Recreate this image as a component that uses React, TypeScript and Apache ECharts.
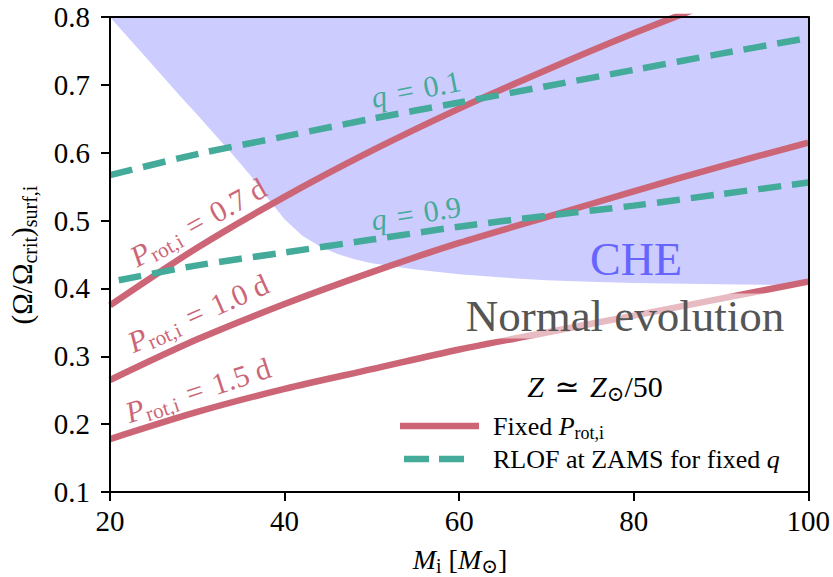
import React, { useEffect, useRef } from "react";
import * as echarts from "echarts";

// Initial mass grid [Msun] and surface Omega/Omega_crit for fixed initial rotation periods
const massGrid = [20, 30, 40, 50, 60, 70, 80, 90];
const omegaP07 = [0.375, 0.46, 0.535, 0.603, 0.665, 0.722, 0.776, 0.826];
const massGridLong = [20, 30, 40, 50, 60, 70, 80, 90, 100];
const omegaP10 = [0.265, 0.325, 0.377, 0.424, 0.467, 0.505, 0.543, 0.58, 0.615];
const omegaP15 = [0.178, 0.218, 0.252, 0.281, 0.31, 0.335, 0.36, 0.385, 0.41];

// Roche-lobe overflow at ZAMS for fixed mass ratio q
const rlofMassQ01 = [20, 30, 40, 50, 60, 70, 80, 90, 100];
const rlofQ01 = [0.567, 0.598, 0.624, 0.65, 0.674, 0.698, 0.722, 0.746, 0.769];
const rlofMassQ09 = [21, 30, 40, 50, 60, 70, 80, 90, 100];
const rlofQ09 = [0.412, 0.434, 0.453, 0.472, 0.491, 0.507, 0.522, 0.539, 0.556];

// Lower edge of the chemically homogeneous evolution (CHE) region
const cheMass = [20, 22, 24, 26, 28, 30, 32, 34, 36, 38, 40, 42, 44, 46, 48, 50, 55, 60, 65, 70, 75, 80, 90, 100];
const cheOmega = [0.8, 0.771, 0.742, 0.713, 0.684, 0.656, 0.627, 0.598, 0.568, 0.534, 0.502, 0.478, 0.462, 0.451, 0.443, 0.437, 0.428, 0.421, 0.416, 0.412, 0.41, 0.408, 0.406, 0.405];

// Axis ticks
const xTicks = [20, 40, 60, 80, 100];
const yTicks = [0.1, 0.2, 0.3, 0.4, 0.5, 0.6, 0.7, 0.8];

const RED = "#cc6677";
const TEAL = "#44aa99";
const SERIF = "Liberation Serif, DejaVu Serif, serif";

const pairs = (xs: number[], ys: number[]) => xs.map((x, i) => [x, ys[i]]);

// Rich-text styles: normal, italic, subscript and spaced relation tokens
function richStyles(size: number, color: string) {
  const sub = Math.round(size * 0.7);
  const gap = Math.round(size * 0.1);
  return {
    n: { fontFamily: SERIF, fontSize: size, color },
    i: { fontFamily: SERIF, fontSize: size, fontStyle: "italic", color },
    e: { fontFamily: SERIF, fontSize: size, color, padding: [0, gap, 0, gap] },
    s: { fontFamily: SERIF, fontSize: sub, color, padding: [Math.round(size * 0.5), 0, 0, 0] },
  };
}

function label(text: string, x: number, y: number, deg: number, size: number, color: string, extra: any = {}) {
  return {
    type: "text",
    x,
    y,
    rotation: (deg * Math.PI) / 180,
    z: 50,
    style: {
      text,
      rich: richStyles(size, color),
      fill: color,
      fontFamily: SERIF,
      fontSize: size,
      textAlign: "center",
      textVerticalAlign: "middle",
      ...extra,
    },
  };
}

function buildOption() {
  const axisCommon = {
    type: "value",
    z: 10,
    splitLine: { show: false },
    axisLine: { show: true, onZero: false, lineStyle: { color: "#000", width: 2 } },
  };
  return {
    animation: false,
    backgroundColor: "#fff",
    textStyle: { fontFamily: SERIF },
    grid: { left: 110, right: 24, top: 17, bottom: 85 },
    xAxis: [
      {
        ...axisCommon,
        position: "bottom",
        min: xTicks[0],
        max: xTicks[xTicks.length - 1],
        interval: xTicks[1] - xTicks[0],
        axisTick: { show: true, length: 9, lineStyle: { color: "#000", width: 2 } },
        axisLabel: { color: "#000", fontFamily: SERIF, fontSize: 29, margin: 14 },
      },
      {
        ...axisCommon,
        position: "top",
        min: xTicks[0],
        max: xTicks[xTicks.length - 1],
        axisTick: { show: false },
        axisLabel: { show: false },
      },
    ],
    yAxis: [
      {
        ...axisCommon,
        position: "left",
        min: yTicks[0],
        max: yTicks[yTicks.length - 1],
        interval: 0.1,
        axisTick: { show: true, length: 9, lineStyle: { color: "#000", width: 2 } },
        axisLabel: {
          color: "#000",
          fontFamily: SERIF,
          fontSize: 29,
          margin: 20,
          formatter: (v: number) => v.toFixed(1),
        },
      },
      {
        ...axisCommon,
        position: "right",
        min: yTicks[0],
        max: yTicks[yTicks.length - 1],
        axisTick: { show: false },
        axisLabel: { show: false },
      },
    ],
    series: [
      {
        name: "CHE",
        type: "line",
        data: pairs(cheMass, cheOmega),
        symbol: "none",
        lineStyle: { width: 0 },
        areaStyle: { color: "#ccccff", opacity: 1, origin: "end" },
        z: 1,
        silent: true,
      },
      ...[omegaP07, omegaP10, omegaP15].map((ys, k) => ({
        name: "Fixed Prot,i " + k,
        type: "line",
        data: pairs(k === 0 ? massGrid : massGridLong, ys),
        symbol: "none",
        smooth: 0.3,
        clip: true,
        lineStyle: { color: RED, width: 6.5, cap: "butt" },
        z: 3,
      })),
      ...[
        [rlofMassQ01, rlofQ01],
        [rlofMassQ09, rlofQ09],
      ].map(([xs, ys], k) => ({
        name: "RLOF q " + k,
        type: "line",
        data: pairs(xs, ys),
        symbol: "none",
        smooth: 0.3,
        lineStyle: { color: TEAL, width: 6.5, type: [23, 11], cap: "butt" },
        z: 4,
      })),
    ],
    graphic: [
      // axis titles
      label("{i|M}{s|i}{n| [}{i|M}{s|⊙}{n|]}", 460, 559, 0, 28, "#000"),
      label("{n|(Ω/Ω}{s|crit}{n|)}{s|surf,i}", 22, 255, 90, 29, "#000"),
      // curve annotations
      label("{i|P}{s|rot,i}{e| = }{n|0.7 d}", 198, 222, 29, 30, RED),
      label("{i|P}{s|rot,i}{e| = }{n|1.0 d}", 198, 313, 24, 30, RED),
      label("{i|P}{s|rot,i}{e| = }{n|1.5 d}", 198, 390, 18, 30, RED),
      label("{i|q}{e| = }{n|0.1}", 416, 89, 11, 30, TEAL),
      label("{i|q}{e| = }{n|0.9}", 416, 213, 9, 30, TEAL),
      // region names
      label("{n|CHE}", 636, 259, 0, 46, "#6666ff"),
      label("{n|Normal evolution}", 625, 316, 0, 45, "#555555", {
        backgroundColor: "rgba(255,255,255,0.55)",
        padding: [0, 4, 0, 4],
      }),
      label("{i|Z}{e| ≃ }{i|Z}{s|⊙}{n|/50}", 595, 386, 0, 30, "#000"),
      // legend
      {
        type: "line",
        z: 50,
        shape: { x1: 400, y1: 426, x2: 479, y2: 426 },
        style: { stroke: RED, lineWidth: 6.5 },
      },
      {
        type: "line",
        z: 50,
        shape: { x1: 404, y1: 459, x2: 464, y2: 459 },
        style: { stroke: TEAL, lineWidth: 6.5, lineDash: [25, 10] },
      },
      label("{n|Fixed }{i|P}{s|rot,i}", 493, 426, 0, 26, "#000", { textAlign: "left" }),
      label("{n|RLOF at ZAMS for fixed }{i|q}", 493, 459, 0, 26, "#000", { textAlign: "left" }),
    ],
  };
}

export default function App() {
  const ref = useRef<HTMLDivElement>(null);
  useEffect(() => {
    if (!ref.current) return;
    const chart = echarts.init(ref.current, undefined, { renderer: "svg" });
    chart.setOption(buildOption() as any);
    return () => chart.dispose();
  }, []);
  return (
    <div
      ref={ref}
      style={{ position: "fixed", left: 0, top: 0, width: 833, height: 577 }}
    />
  );
}
